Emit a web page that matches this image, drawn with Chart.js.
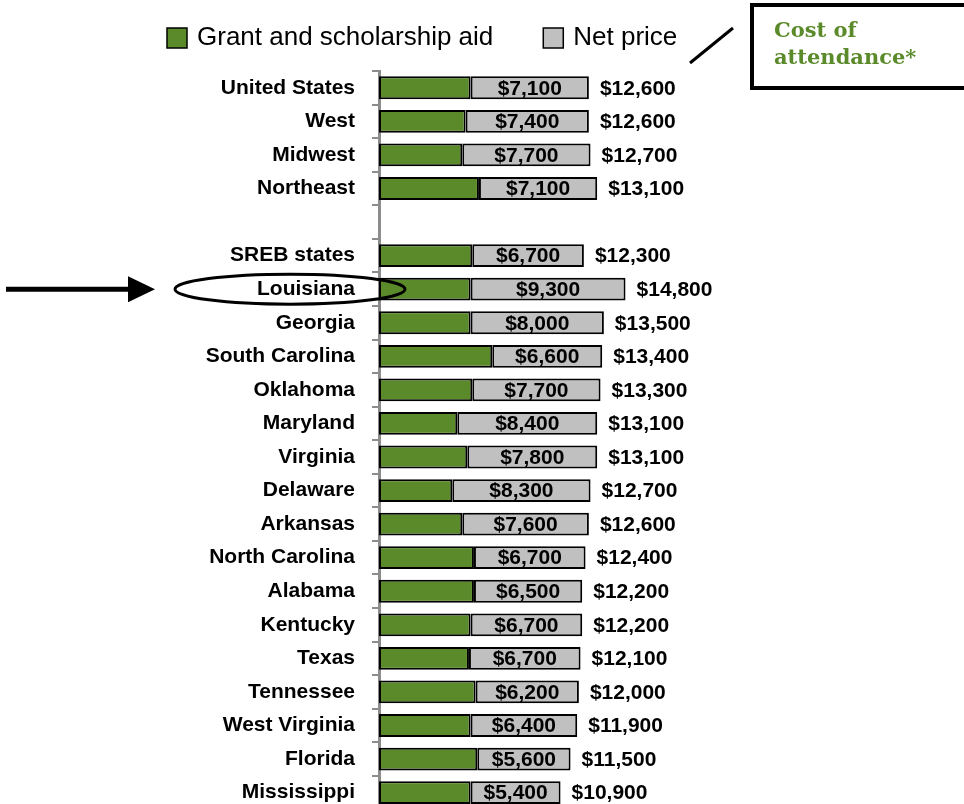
<!DOCTYPE html>
<html>
<head>
<meta charset="utf-8">
<script src="https://cdn.jsdelivr.net/npm/chart.js@4.4.0/dist/chart.umd.min.js"></script>
<style>
  html, body { margin: 0; padding: 0; overflow: hidden; background: #fff; }
  canvas { display: block; }
</style>
</head>
<body>
<canvas id="chart" width="964" height="839"></canvas>
<script>
// --- data ---
const categories = ['United States', 'West', 'Midwest', 'Northeast', '',
  'SREB states', 'Louisiana', 'Georgia', 'South Carolina', 'Oklahoma', 'Maryland',
  'Virginia', 'Delaware', 'Arkansas', 'North Carolina', 'Alabama', 'Kentucky',
  'Texas', 'Tennessee', 'West Virginia', 'Florida', 'Mississippi'];
const grantAid = [5500, 5200, 5000, 6000, null,
  5600, 5500, 5500, 6800, 5600, 4700, 5300, 4400, 5000, 5700, 5700, 5500, 5400, 5800, 5500, 5900, 5500];
const netPrice = [7100, 7400, 7700, 7100, null,
  6700, 9300, 8000, 6600, 7700, 8400, 7800, 8300, 7600, 6700, 6500, 6700, 6700, 6200, 6400, 5600, 5400];
const costOfAttendance = [12600, 12600, 12700, 13100, null,
  12300, 14800, 13500, 13400, 13300, 13100, 13100, 12700, 12600, 12400, 12200, 12200, 12100, 12000, 11900, 11500, 10900];

const FONT = '"Liberation Sans", Arial, sans-serif';
const GREEN = '#5b8a2a';
const GREY = '#c0c0c0';
const fmt = v => '$' + v.toLocaleString('en-US');

// net price inside the grey part, total at the end of the bar
const valueLabels = {
  id: 'valueLabels',
  afterDatasetsDraw(chart) {
    const c = chart.ctx;
    const meta = chart.getDatasetMeta(1);
    c.save();
    c.font = 'bold 21px ' + FONT;
    c.fillStyle = '#000';
    c.textBaseline = 'middle';
    meta.data.forEach((bar, i) => {
      if (netPrice[i] == null) return;
      c.textAlign = 'center';
      c.fillText(fmt(netPrice[i]), (bar.x + bar.base) / 2, bar.y + 1);
      c.textAlign = 'left';
      c.fillText(fmt(costOfAttendance[i]), bar.x + 11, bar.y + 1);
    });
    c.restore();
  }
};

// legend drawn by hand so it can sit where the original has it
const topLegend = {
  id: 'topLegend',
  afterDraw(chart) {
    const c = chart.ctx;
    c.save();
    c.font = '26px ' + FONT;
    c.textBaseline = 'middle';
    c.textAlign = 'left';
    let x = 167;
    const y = 38;
    chart.data.datasets.forEach(ds => {
      c.fillStyle = ds.backgroundColor;
      c.fillRect(x, y - 10, 20, 20);
      c.strokeStyle = '#000';
      c.lineWidth = 1.5;
      c.strokeRect(x, y - 10, 20, 20);
      c.fillStyle = '#000';
      c.fillText(ds.label, x + 30, y);
      x += 30 + c.measureText(ds.label).width + 50;
    });
    c.restore();
  }
};

// arrow, ellipse round Louisiana, cost of attendance callout
const callouts = {
  id: 'callouts',
  afterDraw(chart) {
    const c = chart.ctx;
    const yLa = chart.scales.y.getPixelForValue(6);
    c.save();
    c.strokeStyle = '#000';
    c.fillStyle = '#000';

    c.lineWidth = 3;
    c.beginPath();
    c.ellipse(290, yLa, 115, 15, 0, 0, Math.PI * 2);
    c.stroke();

    c.lineWidth = 5;
    c.beginPath();
    c.moveTo(6, yLa);
    c.lineTo(130, yLa);
    c.stroke();
    c.beginPath();
    c.moveTo(155, yLa);
    c.lineTo(128, yLa - 13);
    c.lineTo(128, yLa + 13);
    c.closePath();
    c.fill();

    c.lineWidth = 3;
    c.beginPath();
    c.moveTo(690, 63);
    c.lineTo(733, 28);
    c.stroke();

    c.lineWidth = 4;
    c.strokeRect(752, 5, 230, 83);
    c.fillStyle = GREEN;
    c.font = 'bold 21px "DejaVu Serif", Georgia, serif';
    c.textAlign = 'left';
    c.textBaseline = 'alphabetic';
    c.fillText('Cost of', 774, 37);
    c.fillText('attendance*', 774, 64);
    c.restore();
  }
};

const ctx = document.getElementById('chart').getContext('2d');
new Chart(ctx, {
  type: 'bar',
  data: {
    labels: categories,
    datasets: [
      { label: 'Grant and scholarship aid', data: grantAid, backgroundColor: GREEN,
        borderColor: '#000', borderWidth: 2, borderSkipped: false },
      { label: 'Net price', data: netPrice, backgroundColor: GREY,
        borderColor: '#000', borderWidth: 2, borderSkipped: false }
    ]
  },
  options: {
    indexAxis: 'y',
    responsive: false,
    animation: false,
    layout: { padding: { top: 71, left: 0, right: 2, bottom: 12 } },
    datasets: { bar: { categoryPercentage: 1, barPercentage: 0.68 } },
    plugins: { legend: { display: false }, tooltip: { enabled: false } },
    scales: {
      x: { stacked: true, min: 0, max: 35000, display: false },
      y: {
        stacked: true,
        afterFit(s) { s.width = 379; },
        grid: { offset: true, drawOnChartArea: false, tickLength: 7, color: '#8c8c8c', lineWidth: 2 },
        border: { color: '#8c8c8c', width: 3 },
        ticks: { font: { family: FONT, size: 21, weight: 'bold' }, color: '#000', padding: 17 }
      }
    }
  },
  plugins: [valueLabels, topLegend, callouts]
});
</script>
</body>
</html>
